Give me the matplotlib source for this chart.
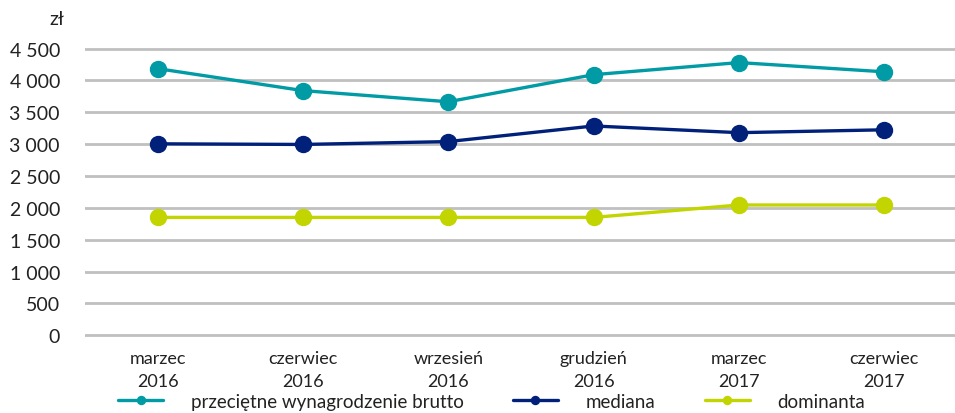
import matplotlib
matplotlib.use("Agg")
import matplotlib.pyplot as plt
from matplotlib.ticker import FuncFormatter

# data
periods = ["marzec\n2016", "czerwiec\n2016", "wrzesień\n2016",
           "grudzień\n2016", "marzec\n2017", "czerwiec\n2017"]
przecietne = [4185, 3840, 3665, 4090, 4280, 4135]
mediana = [3005, 2995, 3040, 3285, 3180, 3225]
dominanta = [1850, 1850, 1850, 1850, 2045, 2045]

labels = ["przeciętne wynagrodzenie brutto", "mediana", "dominanta"]
colors = ["#009BA4", "#00207A", "#C2D500"]

plt.rcParams["font.family"] = ["Lato", "DejaVu Sans"]

fig = plt.figure(figsize=(9.55, 4.14), dpi=100)
# y range padded a little so the 0 and 4500 gridlines are not clipped
ax = fig.add_axes([0.089, 0.180, 0.913, 0.708])

x = range(len(periods))
for vals, lab, col in zip([przecietne, mediana, dominanta], labels, colors):
    ax.plot(x, vals, color=col, lw=2.4, marker="o", ms=11.5, label=lab,
            solid_capstyle="round", zorder=3)

ax.set_xlim(-0.5, len(periods) - 0.5)
ax.set_ylim(-50, 4550)
ax.set_yticks(range(0, 4501, 500))
ax.yaxis.set_major_formatter(FuncFormatter(lambda v, p: f"{int(v):,}".replace(",", " ")))
ax.set_xticks(list(x))
ax.set_xticklabels(periods, fontsize=13, color="#222222", linespacing=1.55)
ax.tick_params(axis="y", labelsize=14, colors="#222222", length=0, pad=18)
ax.tick_params(axis="x", length=0, pad=8)
ax.grid(axis="y", color="#C0C0C0", lw=2)
ax.set_axisbelow(True)
for s in ax.spines.values():
    s.set_visible(False)

fig.text(0.067, 0.952, "zł", fontsize=14, color="#222222", ha="right", va="center")

fig.legend(loc="center", bbox_to_anchor=(0.515, 0.028), ncol=3, frameon=False,
           fontsize=13.5, handlelength=2.4, handletextpad=1.5, columnspacing=2.6,
           markerscale=0.5, labelcolor="#222222")

fig.savefig("out.png", dpi=100)
